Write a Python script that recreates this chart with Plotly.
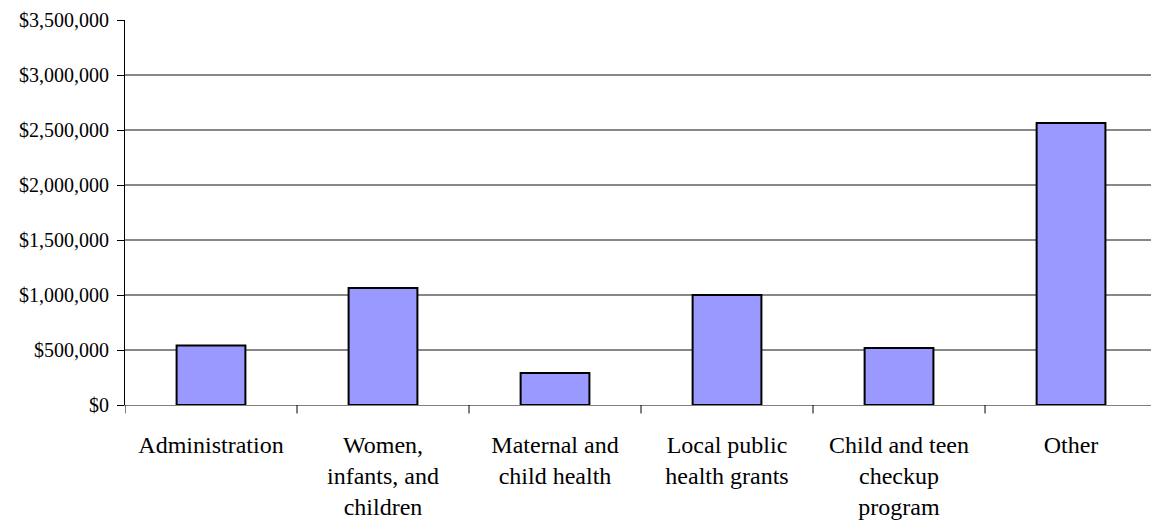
import plotly.graph_objects as go

categories = ["Administration", "Women,<br>infants, and<br>children", "Maternal and<br>child health",
              "Local public<br>health grants", "Child and teen<br>checkup<br>program", "Other"]
values = [541000, 1064000, 292000, 999000, 519000, 2564000]
y_ticks = [0, 500000, 1000000, 1500000, 2000000, 2500000, 3000000, 3500000]
y_labels = ["$0", "$500,000", "$1,000,000", "$1,500,000", "$2,000,000", "$2,500,000", "$3,000,000", "$3,500,000"]
grid_vals = [500000, 1000000, 1500000, 2000000, 2500000, 3000000]

SERIF = "Liberation Serif"

fig = go.Figure()
fig.add_trace(go.Bar(
    x=list(range(len(categories))), y=values, width=0.4,
    marker=dict(color="#9999FF", line=dict(color="black", width=2)),
))

for g in grid_vals:
    fig.add_shape(type="line", xref="paper", yref="y", x0=0, x1=1, y0=g, y1=g,
                  line=dict(color="#111111", width=1), layer="below")

fig.update_layout(
    template="none",
    width=1151, height=523,
    margin=dict(l=125, r=0, t=20, b=118),
    paper_bgcolor="white", plot_bgcolor="white",
    showlegend=False,
    font=dict(family=SERIF, color="black"),
)
fig.update_xaxes(
    range=[-0.5, 5.465],
    tickmode="array", tickvals=list(range(len(categories))), ticktext=categories,
    showgrid=False, showline=True, linecolor="#808080", linewidth=1,
    zeroline=False,
    ticks="", tickfont=dict(size=24, family=SERIF, color="black"),
    ticklabelstandoff=18,
)
# category boundary tick marks
for i in range(len(categories)):
    fig.add_shape(type="line", xref="x", yref="paper", x0=i - 0.5, x1=i - 0.5, y0=0, y1=-0.022,
                  line=dict(color="black", width=1))
fig.update_yaxes(
    range=[0, 3500000],
    tickmode="array", tickvals=y_ticks, ticktext=y_labels,
    showgrid=False, showline=True, linecolor="black", linewidth=1,
    zeroline=False,
    ticks="outside", ticklen=7, tickcolor="black",
    tickfont=dict(size=20, family=SERIF, color="black"),
    ticklabelstandoff=4,
)
fig.write_html("out.html")
